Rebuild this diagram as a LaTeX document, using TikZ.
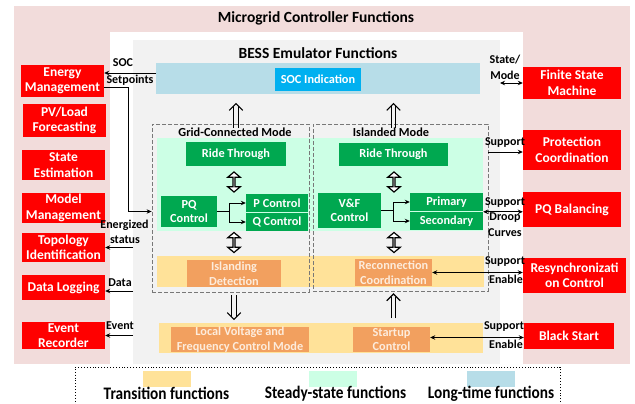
\documentclass[tikz,border=0pt]{standalone}
\usepackage{fontspec}
\setmainfont{Carlito}
\usetikzlibrary{arrows.meta,shapes.arrows}
\definecolor{pinkbg}{RGB}{242,220,219}
\definecolor{greybg}{RGB}{242,242,242}
\definecolor{bluebg}{RGB}{183,221,232}
\definecolor{socblue}{RGB}{0,176,240}
\definecolor{greenbg}{RGB}{204,255,229}
\definecolor{yellowbg}{RGB}{255,226,153}
\definecolor{myred}{RGB}{255,0,0}
\definecolor{mygreen}{RGB}{0,168,80}
\definecolor{myorange}{RGB}{242,160,95}
\definecolor{orangetext}{RGB}{253,236,220}
\definecolor{dashgrey}{RGB}{120,120,120}
\begin{document}
\begin{tikzpicture}[x=1pt,y=-1pt,
 area/.style={inner sep=0pt, outer sep=0pt},
 redbox/.style={fill=myred, text=white, inner sep=0pt, align=center, font=\fontsize{13.5}{15.5}\selectfont\bfseries},
 grnbox/.style={fill=mygreen, text=white, inner sep=0pt, align=center, font=\fontsize{12.3}{14.5}\selectfont\bfseries},
 orgbox/.style={fill=myorange, text=orangetext, inner sep=0pt, align=center, font=\fontsize{12.3}{14.5}\selectfont\bfseries},
 lbl/.style={font=\fontsize{12}{14}\selectfont\bfseries, inner sep=0pt, align=center},
 ttl/.style={font=\fontsize{15.5}{18}\selectfont\bfseries, inner sep=0pt},
 modettl/.style={font=\fontsize{12.3}{14}\selectfont\bfseries, inner sep=0pt},
 modebox/.style={draw=dashgrey, dash pattern=on 4pt off 2pt, line width=0.8pt, inner sep=0pt},
 arr/.style={line width=0.8pt, -{Stealth[length=5pt,width=4.5pt]}},
 darr/.style={line width=0.8pt, {Stealth[length=5pt,width=4.5pt]}-{Stealth[length=5pt,width=4.5pt]}},
 hollow/.style={double arrow, draw, fill=white, line width=1.2pt, rotate=90, minimum height=20pt, minimum width=12.5pt, double arrow head extend=3pt, double arrow tip angle=100, inner sep=0pt},
 legtxt/.style={font=\fontsize{15.3}{18}\selectfont\bfseries, inner sep=0pt},
 dblup/.pic={
   \draw[line width=1.1pt] (-2.3,0) -- (-2.3,-21.5);
   \draw[line width=1.1pt] (2.3,0) -- (2.3,-21.5);
   \draw[line width=1.1pt, line join=miter] (-6.8,-17.2) -- (0,-24) -- (6.8,-17.2);
 },
]
\useasboundingbox (0,0) rectangle (635,404);
\fill[white] (0,0) rectangle (635,404);
% background regions
\node[area, fill=pinkbg, minimum width=616pt, minimum height=358pt] (mc) at (322,185) {};
\node[area, fill=white, minimum width=413pt, minimum height=332pt] (wh) at (316.5,198) {};
\node[area, fill=greybg, minimum width=367pt, minimum height=324pt] (bess) at (316.5,202) {};
\node[area, fill=bluebg, minimum width=324pt, minimum height=31pt] (band) at (318,78.5) {};
\node[area, fill=greenbg, minimum width=326pt, minimum height=93pt] (gband) at (320,184.5) {};
\node[area, fill=yellowbg, minimum width=327pt, minimum height=31pt] (yband) at (320.5,271.5) {};
\node[area, fill=yellowbg, minimum width=324pt, minimum height=30pt] (yband2) at (321,338) {};
\node[modebox, minimum width=157pt, minimum height=168pt] (gcbox) at (230.5,208) {};
\node[modebox, minimum width=175pt, minimum height=167pt] (isbox) at (400.5,207.5) {};
% titles
\node[ttl] (t1) at (316,18) {Microgrid Controller Functions};
\node[ttl] (t2) at (318,53) {BESS Emulator Functions};
\node[modettl] (t3) at (235,132) {Grid-Connected Mode};
\node[modettl] (t4) at (391,132.5) {Islanded Mode};
% BESS blocks
\node[area, fill=socblue, text=white, font=\fontsize{12.3}{14.5}\selectfont\bfseries, minimum width=86pt, minimum height=23pt] (soc) at (318,79.5) {SOC Indication};
\node[grnbox, minimum width=100pt, minimum height=24pt] (ridegc) at (236,154) {Ride Through};
\node[grnbox, minimum width=109pt, minimum height=23pt] (rideis) at (393.5,154.5) {Ride Through};
\node[grnbox, minimum width=56pt, minimum height=31pt] (pq) at (189,211.5) {PQ\\Control};
\node[grnbox, minimum width=62pt, minimum height=18pt] (pc) at (277,203) {P Control};
\node[grnbox, minimum width=62pt, minimum height=18pt] (qc) at (277,222) {Q Control};
\node[grnbox, minimum width=63pt, minimum height=35pt] (vf) at (349.5,210.5) {V\&F\\Control};
\node[grnbox, minimum width=73pt, minimum height=18pt] (prim) at (446.5,202) {Primary};
\node[grnbox, minimum width=73pt, minimum height=18pt] (sec) at (446.5,221) {Secondary};
\node[orgbox, minimum width=94pt, minimum height=27pt] (isl) at (234,273.5) {Islanding\\Detection};
\node[orgbox, minimum width=77pt, minimum height=27pt] (recon) at (393.5,272.5) {Reconnection\\Coordination};
\node[orgbox, minimum width=138pt, minimum height=25pt] (lvf) at (240,339.5) {Local Voltage and\\Frequency Control Mode};
\node[orgbox, minimum width=77pt, minimum height=25pt] (start) at (391.5,339.5) {Startup\\Control};
% red boxes left
\node[redbox, minimum width=83pt, minimum height=32pt] (em) at (62.5,81) {Energy\\Management};
\node[redbox, minimum width=83pt, minimum height=33pt] (pv) at (64.5,120.5) {PV/Load\\Forecasting};
\node[redbox, minimum width=83pt, minimum height=30pt] (se) at (63.5,165) {State\\Estimation};
\node[redbox, minimum width=83pt, minimum height=30pt] (mm) at (63.5,208) {Model\\Management};
\node[redbox, minimum width=83pt, minimum height=29pt] (ti) at (63.5,247.5) {Topology\\Identification};
\node[redbox, minimum width=83pt, minimum height=25pt] (dl) at (63.5,287.5) {Data Logging};
\node[redbox, minimum width=83pt, minimum height=27pt] (er) at (63.5,335.5) {Event\\Recorder};
% red boxes right
\node[redbox, minimum width=98pt, minimum height=32pt] (fsm) at (572,83) {Finite State\\Machine};
\node[redbox, minimum width=98pt, minimum height=40pt] (prot) at (572,150) {Protection\\Coordination};
\node[redbox, minimum width=98pt, minimum height=35pt] (pqb) at (572,209.5) {PQ Balancing};
\node[redbox, minimum width=103pt, minimum height=35pt] (rs) at (574.5,275.5) {Resynchronizati\\on Control};
\node[redbox, minimum width=90pt, minimum height=26pt] (bs) at (569,336) {Black Start};
% internal branch connectors
\draw[line width=0.8pt] (pq.east) -- ++(12,0) coordinate (b1);
\draw[arr] (b1) |- (pc.west);
\draw[arr] (b1) |- (qc.west);
\draw[line width=0.8pt] (vf.east) -- ++(12,0) coordinate (b2);
\draw[arr] (b2) |- (prim.west);
\draw[arr] (b2) |- (sec.west);
% big double-line arrows between levels
\pic at ([yshift=-4pt]ridegc.north |- gcbox.north) {dblup};
\pic at ([yshift=-4pt]rideis.north |- isbox.north) {dblup};
\pic[rotate=180] at ([yshift=-3pt]isl.south |- gcbox.south) {dblup};
\pic at ([yshift=5pt]recon.south |- yband2.north) {dblup};
% hollow two-way arrows
\node[hollow] (h1) at (234,182) {};
\node[hollow] (h2) at (394,182) {};
\node[hollow] (h3) at (234,242.5) {};
\node[hollow] (h4) at (394,242.5) {};
% external connectors
\draw[arr] ([yshift=5.5pt]band.west) -- ([yshift=5.5pt]band.west -| em.east);
\draw[arr] ([yshift=-6pt]em.east) -- ++(24,0) |- (gcbox.west |- pq.west);
\draw[arr] (bess.west |- ti.east) -- (ti.east);
\draw[arr] ([yshift=-3.5pt]bess.west |- dl.east) -- ([yshift=-3.5pt]dl.east);
\draw[arr] (bess.west |- er.east) -- (er.east);
\draw[darr] (bess.east |- fsm.west) -- (fsm.west);
\draw[arr] ([yshift=-2pt]isbox.east |- prot.west) -- ([yshift=-2pt]prot.west);
\draw[darr] (sec.north east) -- (sec.north east -| pqb.west);
\draw[darr] (recon.east) -- (recon.east -| rs.west);
\draw[darr] ([yshift=2pt]start.east) -- ([yshift=2pt]start.east -| bs.west);
% connector labels
\node[lbl] (l1) at (123,63) {SOC};
\node[lbl] (l2) at (130,80) {Setpoints};
\node[lbl] (l3) at (124.5,225) {Energized};
\node[lbl] (l4) at (125,240) {status};
\node[lbl] (l5) at (120,283) {Data};
\node[lbl] (l6) at (120,326) {Event};
\node[lbl] (l7) at (505,60) {State/};
\node[lbl] (l8) at (505,75) {Mode};
\node[lbl] (l9) at (505,143) {Support};
\node[lbl] (l10) at (505,203) {Support};
\node[lbl] (l11) at (505,218) {Droop};
\node[lbl] (l12) at (505,233) {Curves};
\node[lbl] (l13) at (505,262) {Support};
\node[lbl] (l14) at (506,279) {Enable};
\node[lbl] (l15) at (504,327) {Support};
\node[lbl] (l16) at (506,344) {Enable};
% legend
\node[area, draw, dotted, line width=0.9pt, minimum width=485pt, minimum height=46pt] (leg) at (317.5,390) {};
\node[area, fill=yellowbg, minimum width=48pt, minimum height=16pt] (sw1) at (167,379) {};
\node[area, fill=greenbg, minimum width=48pt, minimum height=16pt] (sw2) at (333,379) {};
\node[area, fill=bluebg, minimum width=48pt, minimum height=16pt] (sw3) at (491,379) {};
\node[legtxt] (lt1) at (166.5,393.5) {\scalebox{1}[1.15]{Transition functions}};
\node[legtxt] (lt2) at (335.5,393.5) {\scalebox{1}[1.15]{Steady-state functions}};
\node[legtxt] (lt3) at (491,393.5) {\scalebox{1}[1.15]{Long-time functions}};
\end{tikzpicture}
\end{document}
